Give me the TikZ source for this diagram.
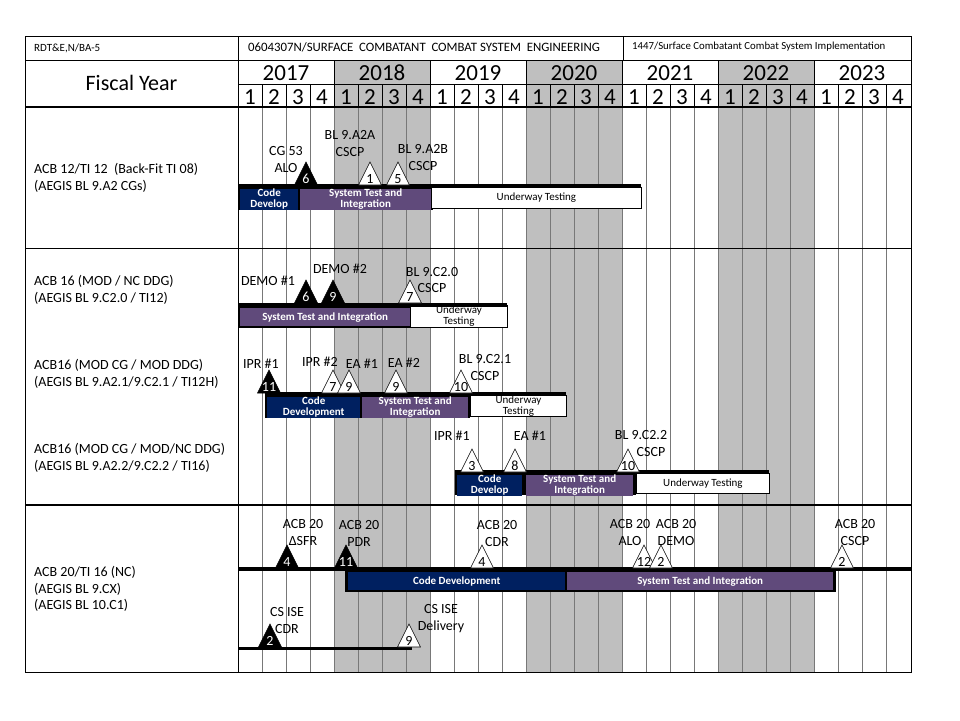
\documentclass[tikz,border=0pt]{standalone}
\usepackage{fontspec}
\setmainfont{Carlito}
\definecolor{navyb}{RGB}{0,32,96}
\definecolor{purpb}{RGB}{96,74,123}
\definecolor{grayc}{RGB}{191,191,191}
\definecolor{gline}{RGB}{120,120,120}
\newcommand{\mstone}[5]{%
  \draw[black, line width=0.6pt, fill=#4] (#2-11.5,#3) -- (#2,#3-23) -- (#2+11.5,#3) -- cycle;
  \node[num, text=#5] (#1) at (#2,#3-2) {\csname msnum#1\endcsname};}
\begin{document}
\begin{tikzpicture}[x=1pt,y=-1pt,
  lbl/.style={font=\fontsize{14}{17}\selectfont, align=center, inner sep=0pt},
  num/.style={font=\fontsize{14}{14}\selectfont, inner sep=0pt, anchor=base},
  rowlbl/.style={font=\fontsize{14}{16.5}\selectfont, align=left, anchor=west, inner sep=0pt},
  barbase/.style={font=\bfseries\fontsize{11}{11}\selectfont, align=center, inner sep=0pt, anchor=north west},
  navybar/.style={barbase, fill=navyb, text=white},
  purpbar/.style={barbase, fill=purpb, text=white},
  whitebar/.style={barbase, font=\fontsize{11}{11}\selectfont, fill=white, draw=black, line width=0.8pt},
  toprule/.style={line width=4pt},
  hdr/.style={inner sep=0pt, anchor=west},
  big/.style={inner sep=0pt, anchor=base, font=\fontsize{23}{24}\selectfont}]
\useasboundingbox (0,0) rectangle (960,720);
\fill[white] (0,0) rectangle (960,720);
% gray years
\foreach \k in {0,1,2} {
  \fill[grayc] ({334+192*\k},60) rectangle ({430+192*\k},672);
}
% grid lines
\foreach \i in {1,...,27} {
  \draw[gline, line width=0.6pt] ({238+24*\i},107) -- ({238+24*\i},672);
}
% header lines
\draw[line width=0.8pt] (25,36) rectangle (911,672);
\draw[line width=0.8pt] (238,36) -- (238,672);
\draw[line width=0.8pt] (623,36) -- (623,60);
\draw[line width=0.8pt] (25,60) -- (911,60);
\draw[line width=0.8pt] (238,84) -- (911,84);
\draw[line width=2pt] (25,107) -- (911,107);
\foreach \k in {1,...,6} { \draw[line width=0.8pt] ({238+96*\k},60) -- ({238+96*\k},84); }
\foreach \i in {1,...,27} { \draw[line width=0.8pt] ({238+24*\i},84) -- ({238+24*\i},107); }
\draw[line width=1pt] (25,248) -- (911,248);
\draw[line width=2pt] (25,505) -- (911,505);
% header text
\node[hdr, font=\fontsize{11}{12}\selectfont] (h1) at (34,48) {RDT\&E,N/BA-5};
\node[hdr, font=\fontsize{12.8}{13}\selectfont] (h2) at (248,47) {0604307N/SURFACE\ \ COMBATANT\ \ COMBAT\ SYSTEM\ \ ENGINEERING};
\node[hdr, font=\fontsize{10.8}{12}\selectfont] (h3) at (632,47) {1447/Surface Combatant Combat System Implementation};
\node[inner sep=0pt, font=\fontsize{22}{24}\selectfont] (fy) at (131.5,83) {Fiscal Year};
\foreach \k/\yr in {0/2017,1/2018,2/2019,3/2020,4/2021,5/2022,6/2023} {
  \node[big] (yr\k) at ({286+96*\k},80) {\yr};
}
\foreach \i in {0,...,27} {
  \pgfmathtruncatemacro{\q}{mod(\i,4)+1}
  \node[big] (q\i) at ({250+24*\i},104) {\q};
}
% row labels
\node[rowlbl] (r1) at (34,178) {ACB 12/TI 12\ \ (Back-Fit TI 08)\\(AEGIS BL 9.A2 CGs)};
\node[rowlbl] (r2) at (34,290) {ACB 16 (MOD / NC DDG)\\(AEGIS BL 9.C2.0 / TI12)};
\node[rowlbl] (r3) at (34,374) {ACB16 (MOD CG / MOD DDG)\\(AEGIS BL 9.A2.1/9.C2.1 / TI12H)};
\node[rowlbl] (r4) at (34,458) {ACB16 (MOD CG / MOD/NC DDG)\\(AEGIS BL 9.A2.2/9.C2.2 / TI16)};
\node[rowlbl] (r5) at (34,589) {ACB 20/TI 16 (NC)\\(AEGIS BL 9.CX)\\(AEGIS BL 10.C1)};
% ---------- section 1
\fill[black] (238,185) rectangle (433,210);
\node[navybar, minimum width=58, minimum height=19] (cd1) at (240,189) {Code\\Develop};
\node[purpbar, minimum width=131, minimum height=19] (st1) at (300,189) {System Test and\\Integration};
\node[whitebar, minimum width=210, minimum height=21] (uw1) at (431,187) {Underway Testing};
\draw[toprule] (238,186) -- (641,186);
% ---------- section 2
\fill[black] (238,305) rectangle (412,328);
\node[purpbar, minimum width=170, minimum height=18] (st2) at (240,308) {System Test and Integration};
\node[whitebar, minimum width=97, minimum height=22] (uw2) at (410,305) {Underway\\Testing};
\draw[toprule] (238,305) -- (507,305);
% ---------- section 3
\fill[black] (265,394) rectangle (470,418);
\node[navybar, minimum width=93, minimum height=19] (cd3) at (267,397) {Code\\Development};
\node[purpbar, minimum width=106, minimum height=19] (st3) at (362,397) {System Test and\\Integration};
\node[whitebar, minimum width=96, minimum height=21] (uw3) at (470,395) {Underway\\Testing};
\draw[toprule] (265,394) -- (566,394);
% ---------- section 4
\fill[black] (455,472) rectangle (636,495);
\node[navybar, minimum width=65, minimum height=18] (cd4) at (457,475) {Code\\Develop};
\node[purpbar, minimum width=107, minimum height=18] (st4) at (526,475) {System Test and\\Integration};
\node[whitebar, minimum width=133, minimum height=20] (uw4) at (636,473) {Underway Testing};
\draw[toprule] (455,472) -- (769,472);
% ---------- section 5
\fill[black] (345,569) rectangle (836,592);
\node[navybar, minimum width=217, minimum height=18] (cd5) at (348,572) {Code Development};
\node[purpbar, minimum width=266, minimum height=18] (st5) at (567,572) {System Test and Integration};
\draw[toprule] (238,569) -- (911,569);
\draw[line width=3pt] (238,648) -- (412,648);
% ---------- milestones
\def\msnumaA{6}\mstone{aA}{306}{185}{black}{white}
\def\msnumaB{1}\mstone{aB}{370}{185}{white}{black}
\def\msnumaC{5}\mstone{aC}{398}{185}{white}{black}
\def\msnumbA{6}\mstone{bA}{306}{303}{black}{white}
\def\msnumbB{9}\mstone{bB}{333}{303}{black}{white}
\def\msnumbC{7}\mstone{bC}{410}{303}{white}{black}
\def\msnumcA{11}\mstone{cA}{269}{393}{black}{white}
\def\msnumcB{7}\mstone{cB}{333}{393}{white}{black}
\def\msnumcC{9}\mstone{cC}{349}{393}{white}{black}
\def\msnumcD{9}\mstone{cD}{396}{393}{white}{black}
\def\msnumcE{10}\mstone{cE}{461}{393}{white}{black}
\def\msnumdA{3}\mstone{dA}{472}{472}{white}{black}
\def\msnumdB{8}\mstone{dB}{515}{472}{white}{black}
\def\msnumdC{10}\mstone{dC}{628}{472}{white}{black}
\def\msnumeA{4}\mstone{eA}{287}{568}{black}{white}
\def\msnumeB{11}\mstone{eB}{346}{568}{black}{white}
\def\msnumeC{4}\mstone{eC}{482}{568}{white}{black}
\def\msnumeD{12}\mstone{eD}{644}{568}{white}{black}
\def\msnumeE{2}\mstone{eE}{661}{568}{white}{black}
\def\msnumeF{2}\mstone{eF}{842}{568}{white}{black}
\def\msnumfA{2}\mstone{fA}{270}{647}{black}{white}
\def\msnumfB{9}\mstone{fB}{409}{647}{white}{black}
% ---------- milestone labels
\node[lbl] (la1) at (286,160) {CG 53\\ALO};
\node[lbl] (la2) at (350,144) {BL 9.A2A\\CSCP};
\node[lbl] (la3) at (423,158) {BL 9.A2B\\CSCP};
\node[lbl] (lb1) at (268,281) {DEMO \#1};
\node[lbl] (lb2) at (340,269) {DEMO \#2};
\node[lbl] (lb3) at (432,280) {BL 9.C2.0\\CSCP};
\node[lbl] (lc1) at (261,364) {IPR \#1};
\node[lbl] (lc2) at (320,362) {IPR \#2};
\node[lbl] (lc3) at (362,364) {EA \#1};
\node[lbl] (lc4) at (404,363) {EA \#2};
\node[lbl] (lc5) at (485,367) {BL 9.C2.1\\CSCP};
\node[lbl] (ld1) at (452,436) {IPR \#1};
\node[lbl] (ld2) at (530,436) {EA \#1};
\node[lbl] (ld3) at (641,435) {BL 9.C2.2};
\node[lbl] (ld4) at (651,452) {CSCP};
\node[lbl] (le1) at (303,532) {ACB 20\\ΔSFR};
\node[lbl] (le2) at (359,533) {ACB 20\\PDR};
\node[lbl] (le3) at (497,533) {ACB 20\\CDR};
\node[lbl] (le4) at (630,532) {ACB 20\\ALO};
\node[lbl] (le5) at (676,532) {ACB 20\\DEMO};
\node[lbl] (le6) at (855,532) {ACB 20\\CSCP};
\node[lbl] (lf1) at (287,620) {CS ISE\\CDR};
\node[lbl] (lf2) at (441,619) {CS ISE\\Delivery};
\end{tikzpicture}
\end{document}
